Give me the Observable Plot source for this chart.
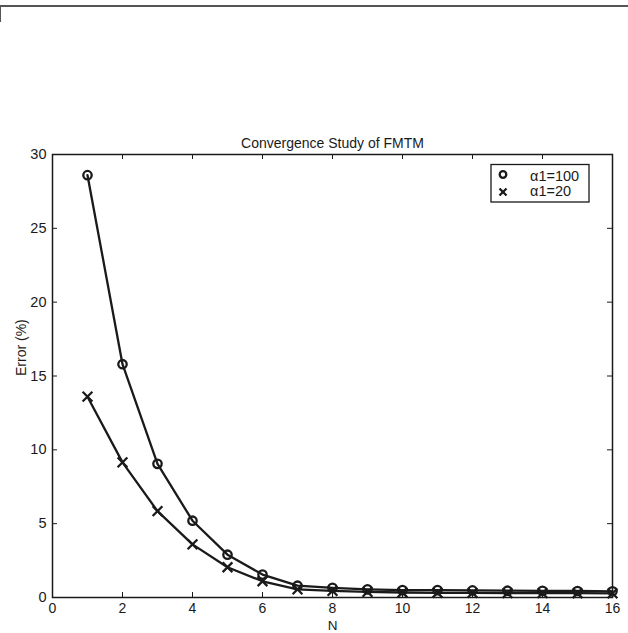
<!DOCTYPE html>
<html>
<head>
<meta charset="utf-8">
<script src="https://cdn.jsdelivr.net/npm/d3@7"></script>
<script src="https://cdn.jsdelivr.net/npm/@observablehq/plot@0.6"></script>
<style>
  html, body { margin: 0; padding: 0; background: #fff; }
  #wrap { position: relative; width: 628px; height: 633px; overflow: hidden; }
  #topline { position: absolute; left: 0; top: 5px; width: 628px; height: 2px; background: #555; }
  #leftline { position: absolute; left: 0; top: 5px; width: 1px; height: 17px; background: #555; }
</style>
</head>
<body>
<div id="wrap"><div id="topline"></div><div id="leftline"></div></div>
<script>
const N = [1,2,3,4,5,6,7,8,9,10,11,12,13,14,15,16];
const err100 = [28.6,15.8,9.05,5.2,2.9,1.55,0.8,0.65,0.55,0.5,0.5,0.48,0.46,0.45,0.44,0.42];
const err20  = [13.6,9.15,5.85,3.6,2.05,1.1,0.55,0.45,0.38,0.34,0.32,0.31,0.3,0.3,0.29,0.28];
const xTicks = [0,2,4,6,8,10,12,14,16];
const yTicks = [0,5,10,15,20,25,30];
const seriesNames = ["\u03b11=100", "\u03b11=20"];
const title = "Convergence Study of FMTM";
const xLabel = "N";
const yLabel = "Error (%)";

const d100 = N.map((n,i) => ({n, e: err100[i]}));
const d20 = N.map((n,i) => ({n, e: err20[i]}));
const ink = "#1a1a1a";

const W = 628, H = 633, mL = 52, mR = 16, mT = 154, mB = 36;
const fw = W - mL - mR, fh = H - mT - mB, tk = 5;

const chart = Plot.plot({
  width: W, height: H,
  marginLeft: mL, marginRight: mR, marginTop: mT, marginBottom: mB,
  x: {domain: [0,16]},
  y: {domain: [0,30]},
  style: {fontFamily: "'Liberation Sans', Arial, sans-serif", fontSize: "14px", color: ink, background: "transparent"},
  marks: [
    Plot.axisX(xTicks, {anchor: "bottom", tickSize: 0, tickPadding: 6, label: null, fontSize: 14}),
    Plot.axisY(yTicks, {anchor: "left", tickSize: 0, tickPadding: 6, label: null, fontSize: 14.5}),
    Plot.tickX(xTicks, {x: d => d, insetTop: fh - tk, stroke: ink, strokeWidth: 1}),
    Plot.tickX(xTicks, {x: d => d, insetBottom: fh - tk, stroke: ink, strokeWidth: 1}),
    Plot.tickY(yTicks, {y: d => d, insetRight: fw - tk, stroke: ink, strokeWidth: 1}),
    Plot.tickY(yTicks, {y: d => d, insetLeft: fw - tk, stroke: ink, strokeWidth: 1}),
    Plot.frame({stroke: ink, strokeWidth: 1.5}),
    Plot.line(d100, {x: "n", y: "e", stroke: ink, strokeWidth: 2.3}),
    Plot.line(d20, {x: "n", y: "e", stroke: ink, strokeWidth: 2.3}),
    Plot.dot(d100, {x: "n", y: "e", symbol: "circle", r: 4.2, stroke: ink, strokeWidth: 2.3, fill: "none"}),
    Plot.dot(d20, {x: "n", y: "e", symbol: "times", r: 4.5, stroke: ink, strokeWidth: 2.3}),
    Plot.text([title], {frameAnchor: "top", dy: -16, fontSize: 14}),
    Plot.text([yLabel], {frameAnchor: "left", dx: -31, rotate: -90, fontSize: 14}),
    Plot.text([xLabel], {frameAnchor: "bottom", dy: 28.5, lineAnchor: "middle", fontSize: 13.5})
  ]
});

// Legend box inside the axes (top-right)
const svg = d3.select(chart);
const lg = svg.append("g").attr("font-family", "'Liberation Sans', Arial, sans-serif").attr("text-anchor", "start");
lg.append("rect").attr("x", 491).attr("y", 164.5).attr("width", 98).attr("height", 37.5)
  .attr("fill", "#fff").attr("stroke", ink).attr("stroke-width", 1.3);
lg.append("path").attr("d", d3.symbol(d3.symbolCircle, Math.PI * 3.3 * 3.3)())
  .attr("transform", "translate(503,174.5)").attr("fill", "none").attr("stroke", ink).attr("stroke-width", 2.3);
lg.append("path").attr("d", d3.symbol(d3.symbolTimes, 34)())
  .attr("transform", "translate(503,192)").attr("fill", "none").attr("stroke", ink).attr("stroke-width", 2.3);
lg.append("text").attr("x", 530).attr("y", 180.5).attr("font-size", 14.5).attr("fill", ink).text(seriesNames[0]);
lg.append("text").attr("x", 530).attr("y", 196).attr("font-size", 14.5).attr("fill", ink).text(seriesNames[1]);

chart.style.position = "absolute";
chart.style.left = "0px";
chart.style.top = "0px";
document.getElementById("wrap").appendChild(chart);
</script>
</body>
</html>
